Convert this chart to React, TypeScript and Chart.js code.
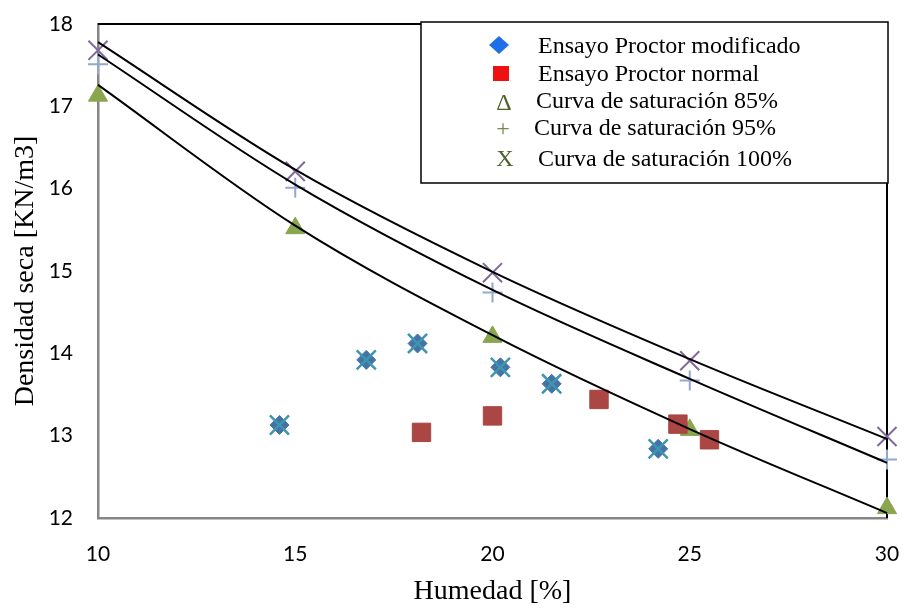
import React, { useEffect, useRef } from 'react';
import { Chart, registerables } from 'chart.js';

Chart.register(...registerables);

// ---- Data ----
const humedadCurvas = [10, 15, 20, 25, 30];
// markers of the saturation curves
const sat85 = [17.13, 15.52, 14.2, 13.07, 12.12];
const sat95 = [17.51, 16.01, 14.74, 13.67, 12.71];
const sat100 = [17.68, 16.21, 14.98, 13.91, 12.99];
// black trend curves
const curva85 = [17.26, 15.55, 14.22, 13.08, 12.06];
const curva95 = [17.63, 16.05, 14.77, 13.69, 12.67];
const curva100 = [17.78, 16.23, 14.99, 13.93, 12.96];

const modHumedad = [14.6, 16.8, 18.1, 20.2, 21.5, 24.2];
const modDensidad = [13.13, 13.92, 14.12, 13.83, 13.63, 12.84];
const normHumedad = [18.2, 20.0, 22.7, 24.7, 25.5];
const normDensidad = [13.04, 13.24, 13.44, 13.14, 12.95];

const xTicks = [10, 15, 20, 25, 30];
const yTicks = [12, 13, 14, 15, 16, 17, 18];

const legendLabels = [
  'Ensayo Proctor modificado',
  'Ensayo Proctor normal',
  'Curva de saturación 85%',
  'Curva de saturación 95%',
  'Curva de saturación 100%',
];
const legendSymbols = ['Δ', '+', 'X'];

const COL_MOD = '#4572A7';
const COL_MOD_X = '#3D96AE';
const COL_NORM = '#AA4643';
const COL_85 = '#89A54E';
const COL_95 = '#92A8CD';
const COL_100 = '#80699B';

const SERIF = '"Liberation Serif", "Times New Roman", serif';
const SANS = 'Lato, "Open Sans", sans-serif';

const pts = (xs: number[], ys: number[]) => xs.map((x, i) => ({ x, y: ys[i] }));

const frameAndLegend = {
  id: 'frameAndLegend',
  beforeDatasetsDraw(chart: any) {
    const { ctx, chartArea: a } = chart;
    ctx.save();
    ctx.strokeStyle = '#000';
    ctx.lineWidth = 2;
    ctx.beginPath();
    ctx.moveTo(a.left, a.top);
    ctx.lineTo(a.right, a.top);
    ctx.lineTo(a.right, a.bottom);
    ctx.stroke();
    ctx.restore();
  },
  afterDraw(chart: any) {
    const { ctx } = chart;
    ctx.save();
    // legend box
    const bx = 421, by = 22, bw = 467, bh = 161;
    ctx.fillStyle = '#fff';
    ctx.fillRect(bx, by, bw, bh);
    ctx.strokeStyle = '#000';
    ctx.lineWidth = 1.5;
    ctx.strokeRect(bx, by, bw, bh);

    // row 1: blue diamond
    ctx.fillStyle = '#1F6FEA';
    ctx.beginPath();
    ctx.moveTo(499, 36);
    ctx.lineTo(509, 45);
    ctx.lineTo(499, 54);
    ctx.lineTo(489, 45);
    ctx.closePath();
    ctx.fill();
    // row 2: red square
    ctx.fillStyle = '#F01010';
    ctx.fillRect(493, 66, 16, 15);

    ctx.font = '24px ' + SERIF;
    ctx.textBaseline = 'alphabetic';
    ctx.textAlign = 'center';
    ctx.fillStyle = '#4F6228';
    ctx.fillText(legendSymbols[0], 504, 110);
    ctx.fillStyle = '#76884F';
    ctx.fillText(legendSymbols[1], 503, 136);
    ctx.fillStyle = '#4F6228';
    ctx.fillText(legendSymbols[2], 505, 166);

    ctx.textAlign = 'left';
    ctx.fillStyle = '#000';
    const tx = [538, 538, 536, 534, 538];
    const ty = [53, 81, 108, 135, 166];
    legendLabels.forEach((t, i) => ctx.fillText(t, tx[i], ty[i]));
    ctx.restore();
  },
};

export default function App() {
  const ref = useRef<HTMLCanvasElement | null>(null);
  useEffect(() => {
    if (!ref.current) return;
    const curveDs = (data: number[]) => ({
      type: 'line' as const,
      data: pts(humedadCurvas, data),
      borderColor: '#000',
      borderWidth: 2,
      pointRadius: 0,
      showLine: true,
      fill: false,
      cubicInterpolationMode: 'monotone' as const,
      clip: false as any,
    });
    const chart = new Chart(ref.current, {
      type: 'scatter',
      data: {
        datasets: [
          curveDs(curva85),
          curveDs(curva95),
          curveDs(curva100),
          {
            data: pts(modHumedad, modDensidad),
            pointStyle: 'crossRot',
            pointRadius: 13.5,
            pointBorderWidth: 2.5,
            pointBorderColor: COL_MOD_X,
            pointBackgroundColor: COL_MOD_X,
            clip: false as any,
          },
          {
            data: pts(modHumedad, modDensidad),
            pointStyle: 'rectRot',
            pointRadius: 9.5,
            pointBorderWidth: 1,
            pointBorderColor: COL_MOD,
            pointBackgroundColor: COL_MOD,
            clip: false as any,
          },
          {
            data: pts(normHumedad, normDensidad),
            pointStyle: 'rect',
            pointRadius: 13,
            pointBorderWidth: 1,
            pointBorderColor: COL_NORM,
            pointBackgroundColor: COL_NORM,
            clip: false as any,
          },
          {
            data: pts(humedadCurvas, sat85),
            pointStyle: 'triangle',
            pointRadius: 11,
            pointBorderWidth: 1,
            pointBorderColor: COL_85,
            pointBackgroundColor: COL_85,
            clip: false as any,
          },
          {
            data: pts(humedadCurvas, sat95),
            pointStyle: 'cross',
            pointRadius: 10,
            pointBorderWidth: 2,
            pointBorderColor: COL_95,
            pointBackgroundColor: COL_95,
            clip: false as any,
          },
          {
            data: pts(humedadCurvas, sat100),
            pointStyle: 'crossRot',
            pointRadius: 13.5,
            pointBorderWidth: 2,
            pointBorderColor: COL_100,
            pointBackgroundColor: COL_100,
            clip: false as any,
          },
        ] as any,
      },
      options: {
        animation: false,
        responsive: false,
        layout: { padding: { top: 24, right: 17, left: 0, bottom: 0 } },
        plugins: { legend: { display: false }, tooltip: { enabled: false } },
        scales: {
          x: {
            type: 'linear',
            position: 'bottom',
            min: 10,
            max: 30,
            afterFit: (s: any) => {
              s.height = 90;
              s.paddingLeft = 0;
              s.paddingRight = 0;
            },
            afterBuildTicks: (s: any) => { s.ticks = xTicks.map((v) => ({ value: v })); },
            grid: { display: false, drawTicks: false },
            border: { display: true, color: '#868686', width: 2.5 },
            ticks: { padding: 24, maxRotation: 0, color: '#000', font: { family: SANS, size: 21 } },
            title: {
              display: true,
              text: 'Humedad [%]',
              color: '#000',
              font: { family: SERIF, size: 28 },
              padding: { top: 0, bottom: 0 },
            },
          },
          y: {
            type: 'linear',
            min: 12,
            max: 18,
            afterFit: (s: any) => {
              s.width = 98;
              s.paddingTop = 0;
              s.paddingBottom = 0;
            },
            afterBuildTicks: (s: any) => { s.ticks = yTicks.map((v) => ({ value: v })); },
            grid: { display: false, drawTicks: false },
            border: { display: true, color: '#868686', width: 2.5 },
            ticks: { padding: 25, color: '#000', font: { family: SANS, size: 21 } },
            title: {
              display: true,
              text: 'Densidad seca [KN/m3]',
              color: '#000',
              font: { family: SERIF, size: 28 },
              padding: { top: 9, bottom: 0 },
            },
          },
        },
      } as any,
      plugins: [frameAndLegend],
    });
    return () => chart.destroy();
  }, []);
  return (
    <div style={{ position: 'absolute', left: 0, top: 0, width: 904, height: 608, background: '#fff' }}>
      <canvas ref={ref} width={904} height={608} style={{ display: 'block' }} />
    </div>
  );
}
